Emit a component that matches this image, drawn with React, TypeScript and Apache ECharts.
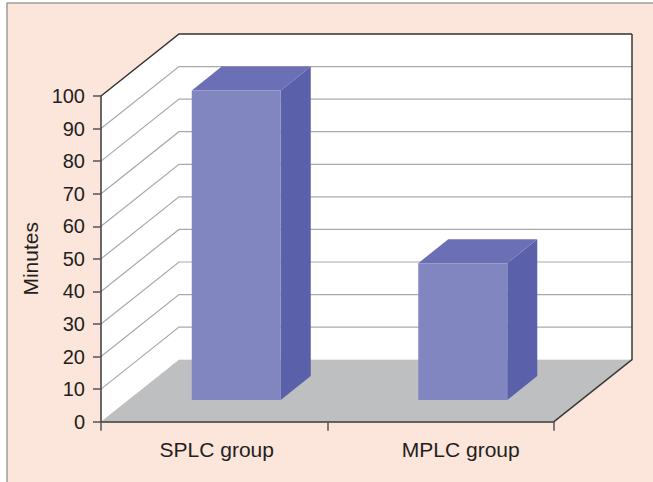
import React, { useEffect, useRef } from "react";
import * as echarts from "echarts";

const categories = ["SPLC group", "MPLC group"];
const minutes = [95, 42];
const yTicks = [0, 10, 20, 30, 40, 50, 60, 70, 80, 90, 100];

const FONT = "'Liberation Sans', Arial, Helvetica, sans-serif";
const DEPTH_X = 78;
const DEPTH_Y = -62;
const BAR_FRONT_DX = -22.5;
const BAR_FRONT_DY = -21.7;
const BAR_W = 89;
const BAR_DX = 30;
const BAR_DY = -24;

export default function App() {
  const ref = useRef<HTMLDivElement>(null);
  useEffect(() => {
    if (!ref.current) return;
    const chart = echarts.init(ref.current, null, { renderer: "svg" });
    const option: any = {
      animation: false,
      backgroundColor: "#ffffff",
      graphic: [
        {
          type: "rect",
          z: -10,
          silent: true,
          shape: { x: 7, y: 3, width: 700, height: 520 },
          style: { fill: "#fce5da", stroke: "#9d9d9d", lineWidth: 1.5 },
        },
      ],
      grid: { left: 101, top: 96, right: 99, bottom: 60.3, containLabel: false },
      xAxis: {
        type: "category",
        data: categories.map((c, i) => ({
          value: c,
          textStyle: { padding: i === 0 ? [0, 0, 0, 5] : [0, 0, 0, 40] },
        })),
        z: 5,
        axisLine: { show: true, lineStyle: { color: "#3a3a3a", width: 1.5 } },
        axisTick: { show: true, length: 9, lineStyle: { color: "#555", width: 1.5 } },
        axisLabel: { fontSize: 21, color: "#231f20", fontFamily: FONT, margin: 17 },
        splitLine: { show: false },
      },
      yAxis: {
        type: "value",
        min: yTicks[0],
        max: yTicks[yTicks.length - 1],
        interval: 10,
        z: 5,
        name: "Minutes",
        nameLocation: "middle",
        nameRotate: 90,
        nameGap: 57,
        nameTextStyle: { fontSize: 21, color: "#231f20", fontFamily: FONT },
        axisLine: { show: true, lineStyle: { color: "#3a3a3a", width: 1.5 } },
        axisTick: { show: true, length: 8, lineStyle: { color: "#555", width: 1.5 } },
        axisLabel: { fontSize: 20, color: "#231f20", fontFamily: FONT, margin: 16 },
        splitLine: { show: false },
      },
      series: [
        {
          type: "custom",
          z: 1,
          silent: true,
          data: [[0, 0]],
          renderItem: (params: any, api: any) => {
            const cs = params.coordSys;
            const x0 = cs.x;
            const x1 = cs.x + cs.width;
            const yTop = cs.y;
            const yBot = cs.y + cs.height;
            const children: any[] = [];
            // back wall
            children.push({
              type: "rect",
              shape: { x: x0 + DEPTH_X, y: yTop + DEPTH_Y, width: cs.width, height: cs.height },
              style: { fill: "#ffffff" },
            });
            // left wall
            children.push({
              type: "polygon",
              shape: {
                points: [
                  [x0, yTop],
                  [x0 + DEPTH_X, yTop + DEPTH_Y],
                  [x0 + DEPTH_X, yBot + DEPTH_Y],
                  [x0, yBot],
                ],
              },
              style: { fill: "#ffffff" },
            });
            // floor
            children.push({
              type: "polygon",
              shape: {
                points: [
                  [x0, yBot],
                  [x1, yBot],
                  [x1 + DEPTH_X, yBot + DEPTH_Y],
                  [x0 + DEPTH_X, yBot + DEPTH_Y],
                ],
              },
              style: { fill: "#bebfc1" },
            });
            // gridlines
            yTicks.forEach((v) => {
              if (v === 0) return;
              const yv = api.coord([0, v])[1];
              const isTop = v === yTicks[yTicks.length - 1];
              children.push({
                type: "polyline",
                shape: {
                  points: [
                    [x0, yv],
                    [x0 + DEPTH_X, yv + DEPTH_Y],
                    [x1 + DEPTH_X, yv + DEPTH_Y],
                  ],
                },
                style: {
                  fill: null,
                  stroke: isTop ? "#333333" : "#a9a9a9",
                  lineWidth: isTop ? 1.5 : 1.2,
                },
              });
            });
            // right edge of back wall and floor
            children.push({
              type: "polyline",
              shape: {
                points: [
                  [x1 + DEPTH_X, yTop + DEPTH_Y],
                  [x1 + DEPTH_X, yBot + DEPTH_Y],
                  [x1, yBot],
                ],
              },
              style: { fill: null, stroke: "#3a3a3a", lineWidth: 1.5 },
            });
            return { type: "group", children };
          },
        },
        {
          type: "custom",
          z: 3,
          silent: true,
          data: minutes.map((v, i) => [i, v]),
          renderItem: (params: any, api: any) => {
            const idx = api.value(0);
            const val = api.value(1);
            const base = api.coord([idx, 0]);
            const top = api.coord([idx, val]);
            const left = base[0] + BAR_FRONT_DX;
            const right = left + BAR_W;
            const yb = base[1] + BAR_FRONT_DY;
            const yt = top[1] + BAR_FRONT_DY;
            return {
              type: "group",
              children: [
                {
                  type: "polygon",
                  shape: {
                    points: [
                      [right, yt],
                      [right + BAR_DX, yt + BAR_DY],
                      [right + BAR_DX, yb + BAR_DY],
                      [right, yb],
                    ],
                  },
                  style: { fill: "#5a60a9" },
                },
                {
                  type: "polygon",
                  shape: {
                    points: [
                      [left, yt],
                      [left + BAR_DX, yt + BAR_DY],
                      [right + BAR_DX, yt + BAR_DY],
                      [right, yt],
                    ],
                  },
                  style: { fill: "#6a6fb6" },
                },
                {
                  type: "rect",
                  shape: { x: left, y: yt, width: BAR_W, height: yb - yt },
                  style: { fill: "#8286c0" },
                },
              ],
            };
          },
        },
      ],
    };
    chart.setOption(option);
    return () => chart.dispose();
  }, []);
  return (
    <div
      ref={ref}
      style={{ position: "absolute", left: 0, top: 0, width: 653, height: 482 }}
    />
  );
}
